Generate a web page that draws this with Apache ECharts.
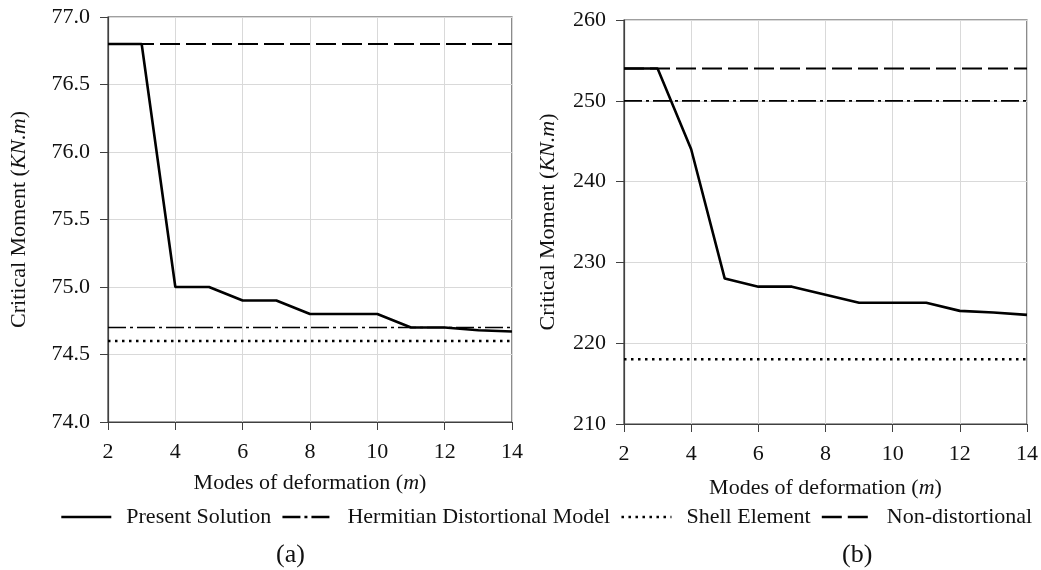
<!DOCTYPE html>
<html><head><meta charset="utf-8">
<script src="https://cdn.jsdelivr.net/npm/echarts@6/dist/echarts.min.js"></script>
<style>html,body{margin:0;padding:0;background:#fff}#c{width:1041px;height:570px}</style>
</head><body><div id="c"></div>
<script>
const modes = [2,3,4,5,6,7,8,9,10,11,12,13,14];
const presentA = [76.8,76.8,75.0,75.0,74.9,74.9,74.8,74.8,74.8,74.7,74.7,74.68,74.67];
const presentB = [254,254,244,228,227,227,226,225,225,225,224,223.8,223.5];
const hermitianA = 74.7, shellA = 74.6, nonDistA = 76.8;
const hermitianB = 250, shellB = 218, nonDistB = 254;
const seriesNames = ['Present Solution','Hermitian Distortional Model','Shell Element','Non-distortional'];
const panelLabels = ['(a)','(b)'];

const FONT = "'Liberation Serif','Times New Roman',serif";
const pair = (ys) => modes.map((m,i)=>[m, ys[i]]);
const flat = (v) => [[modes[0], v],[modes[modes.length-1], v]];

const styles = [
  {color:'#000', width:2.6, type:'solid'},
  {color:'#000', width:1.7, type:[18,4,3,4]},
  {color:'#000', width:2.5, type:[2.5,4.5]},
  {color:'#000', width:2, type:[20,6]}
];

function mkSeries(idx, present, herm, shell, nond){
  const datas = [pair(present), flat(herm), flat(shell), flat(nond)];
  return datas.map((d,k)=>({
    name: seriesNames[k], type:'line', xAxisIndex: idx, yAxisIndex: idx,
    data: d, symbol:'none', lineStyle: styles[k], itemStyle:{color:'#000'},
    z: k===0 ? 5 : 3, animation:false
  }));
}

const labelStyle = {color:'#111', fontFamily:FONT, fontSize:22};
const axisCommon = {
  axisLine:{show:true, onZero:false, lineStyle:{color:'#404040', width:1.2}},
  axisTick:{show:true, length:8, lineStyle:{color:'#404040'}},
  splitLine:{show:true, lineStyle:{color:'#d9d9d9', width:1}}
};
const richName = {a:{fontFamily:FONT,fontSize:22,color:'#111'},b:{fontFamily:FONT,fontSize:22,fontStyle:'italic',color:'#111'}};
const yName = {name:'{a|Critical Moment (}{b|KN.m}{a|)}', nameLocation:'middle', nameTextStyle:{rich:richName}};
const xName = {name:'{a|Modes of deformation (}{b|m}{a|)}', nameLocation:'middle', nameTextStyle:{rich:richName}};

const option = {
  backgroundColor:'#fff',
  animation:false,
  grid:[
    {left:108, right:529, top:17, bottom:148, show:true, borderColor:'#404040', borderWidth:1.2},
    {left:624, right:13, top:20, bottom:146, show:true, borderColor:'#404040', borderWidth:1.2}
  ],
  xAxis:[
    Object.assign({}, axisCommon, xName, {type:'value', gridIndex:0, min:2, max:14, interval:2, nameGap:50,
      axisLabel:Object.assign({}, labelStyle, {margin:19})}),
    Object.assign({}, axisCommon, xName, {type:'value', gridIndex:1, min:2, max:14, interval:2, nameGap:53,
      axisLabel:Object.assign({}, labelStyle, {margin:19})})
  ],
  yAxis:[
    Object.assign({}, axisCommon, yName, {type:'value', gridIndex:0, min:74, max:77, interval:0.5, nameGap:78,
      axisLabel:Object.assign({}, labelStyle, {margin:18, formatter:(v)=>v.toFixed(1)})}),
    Object.assign({}, axisCommon, yName, {type:'value', gridIndex:1, min:210, max:260, interval:10, nameGap:65,
      axisLabel:Object.assign({}, labelStyle, {margin:18})})
  ],
  legend:{
    data: seriesNames, left:60, top:506, width:981, padding:0, itemWidth:50, itemHeight:14, itemGap:10,
    itemStyle:{opacity:0},
    lineStyle:{width:2.6},
    textStyle:{fontFamily:FONT, fontSize:22, color:'#111', padding:[0,0,0,10]}
  },
  title:[
    {text:panelLabels[0], left:271, top:537, textStyle:{fontFamily:FONT, fontSize:26, fontWeight:'normal', color:'#111'}},
    {text:panelLabels[1], left:837, top:537, textStyle:{fontFamily:FONT, fontSize:26, fontWeight:'normal', color:'#111'}}
  ],
  series:[].concat(mkSeries(0, presentA, hermitianA, shellA, nonDistA), mkSeries(1, presentB, hermitianB, shellB, nonDistB))
};
echarts.init(document.getElementById('c'), null, {renderer:'canvas'}).setOption(option);
</script></body></html>
